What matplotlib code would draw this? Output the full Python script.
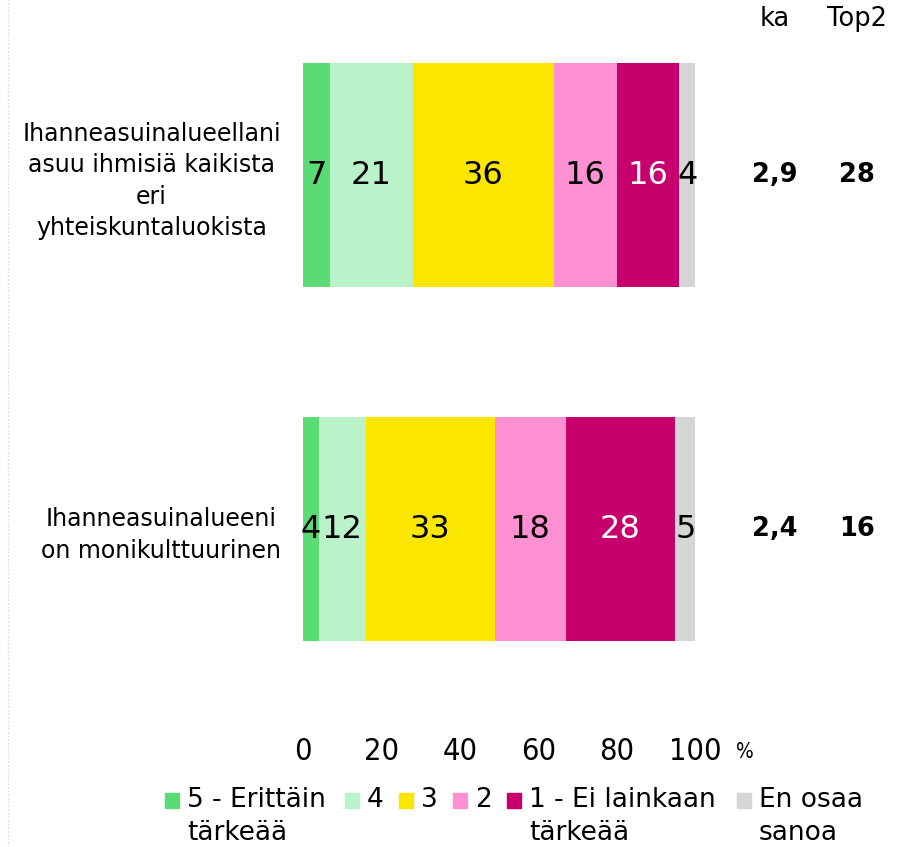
import matplotlib.pyplot as plt
import numpy as np
from matplotlib.lines import Line2D
from matplotlib.patches import Rectangle

# survey statements and answer shares (%)
statements = ['Ihanneasuinalueellani\nasuu ihmisiä kaikista\neri\nyhteiskuntaluokista',
              'Ihanneasuinalueeni\non monikulttuurinen']
categories = ['5 - Erittäin\ntärkeää', '4', '3', '2', '1 - Ei lainkaan\ntärkeää', 'En osaa\nsanoa']
shares = [[7, 21, 36, 16, 16, 4],
          [4, 12, 33, 18, 28, 5]]
ka = ['2,9', '2,4']
top2 = ['28', '16']
ticks = [0, 20, 40, 60, 80, 100]
colors = ['#5ADB74', '#BAF2CA', '#FBE600', '#FF90D2', '#C8006E', '#D5D5D5']
text_colors = ['black', 'black', 'black', 'black', 'white', 'black']

W, H = 898, 847
fig = plt.figure(figsize=(W / 100, H / 100), dpi=100)
ax = fig.add_axes([303 / W, (H - 706) / H, 392 / W, 708 / H])

ypos = [1, 0]
for i, row in enumerate(shares):
    left = 0
    for j, v in enumerate(row):
        ax.barh(ypos[i], v, left=left, height=0.63, color=colors[j])
        ax.text(left + v / 2, ypos[i], str(v), ha='center', va='center',
                fontsize=23, color=text_colors[j])
        left += v
    ax.text(120.4, ypos[i], ka[i], ha='center', va='center', fontsize=18.5,
            fontweight='bold', clip_on=False)
    ax.text(141.3, ypos[i], top2[i], ha='center', va='center', fontsize=18.5,
            fontweight='bold', clip_on=False)

ax.text(120.4, 1.44, 'ka', ha='center', va='center', fontsize=18.5, clip_on=False)
ax.text(141.3, 1.44, 'Top2', ha='center', va='center', fontsize=18.5, clip_on=False)

ax.set_xlim(0, 100)
ax.set_ylim(-0.5, 1.5)
ax.set_xticks(ticks)
ax.set_xticklabels([str(t) for t in ticks], fontsize=22, fontstretch='condensed')
ax.set_yticks(ypos)
ax.set_yticklabels(statements, fontsize=17, multialignment='center',
                   linespacing=1.37)
ax.tick_params(length=0)
ax.tick_params(axis='x', pad=22)
ax.tick_params(axis='y', pad=16)
for s in ax.spines.values():
    s.set_visible(False)
ax.text(112.8, -0.63, '%', ha='center', va='center', fontsize=15,
        fontstretch='condensed', clip_on=False)

# legend drawn by hand so the swatch sits beside the first text line
leg_x = [165, 345, 399, 453, 507, 737]
for j, lab in enumerate(categories):
    x0 = leg_x[j]
    fig.add_artist(Rectangle((x0 / W, (H - 808) / H), 14 / W, 15 / H,
                             transform=fig.transFigure, color=colors[j]))
    fig.text((x0 + 22) / W, (H - 787) / H, lab, ha='left', va='top',
             fontsize=19, linespacing=1.37)

fig.add_artist(Line2D([8 / W, 8 / W], [0, 1], color='#d8d8d8', lw=1,
                      linestyle=':'))

fig.savefig('out.png', dpi=100)
